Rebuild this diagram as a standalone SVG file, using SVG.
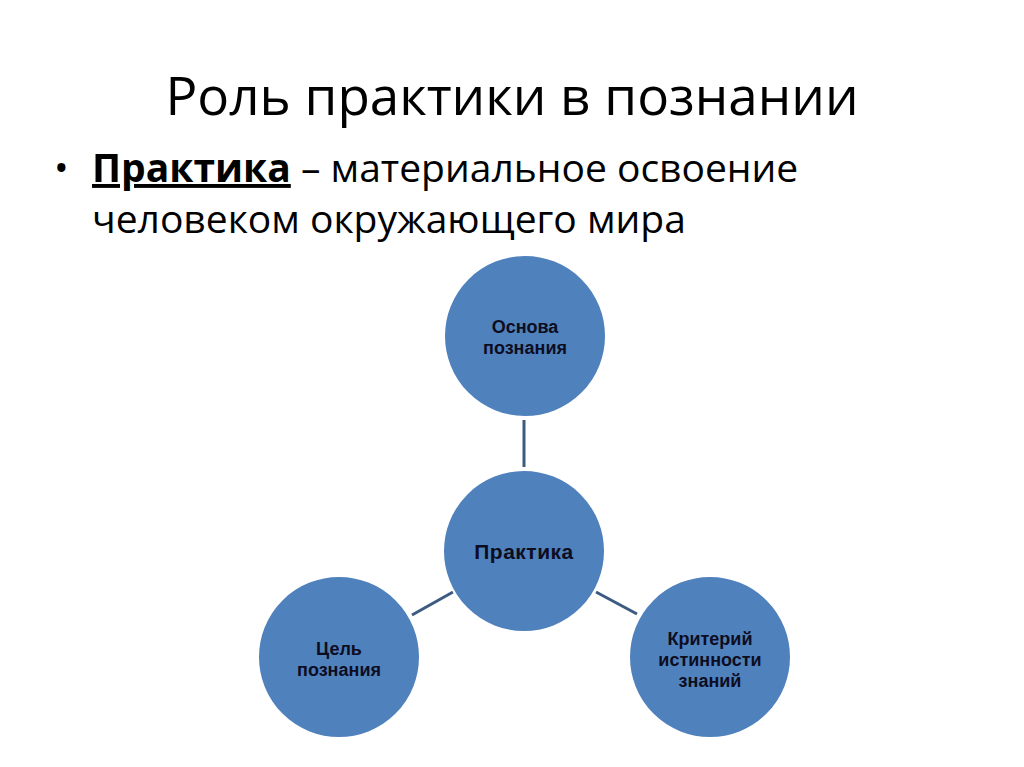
<svg xmlns="http://www.w3.org/2000/svg" width="1024" height="767" viewBox="0 0 1024 767">
<style>
.node{fill:#4f81bd;stroke:#ffffff;stroke-width:2}
.nt{font-family:"Liberation Sans",Arial,sans-serif;font-weight:bold;fill:#0d0d1f;text-anchor:middle;font-size:18px}
.big{font-size:21px;letter-spacing:0.5px}
.conn{stroke:#3d5a80;stroke-width:3;fill:none}
.hd{font-family:"Open Sans","Noto Sans",sans-serif;fill:#000}
</style>
<rect width="1024" height="767" fill="#ffffff"/>
<text class="hd" x="512" y="115" font-size="53" text-anchor="middle">Роль практики в познании</text>
<text class="hd" x="54" y="182" font-size="39">•</text>
<text class="hd" x="92" y="182" font-size="39"><tspan font-weight="bold" text-decoration="underline">Практика</tspan> – материальное освоение</text>
<text class="hd" x="92" y="233" font-size="39">человеком окружающего мира</text>
<g id="connectors">
<line class="conn" x1="524" y1="420" x2="524" y2="467"/>
<line class="conn" x1="412" y1="615" x2="453" y2="592"/>
<line class="conn" x1="596" y1="592" x2="637" y2="614"/>
</g>
<g id="n-top">
<circle class="node" cx="525" cy="336" r="81"/>
<text class="nt" x="525" y="333">Основа</text>
<text class="nt" x="525" y="354">познания</text>
</g>
<g id="n-center">
<circle class="node" cx="524" cy="551" r="81"/>
<text class="nt big" x="524" y="559">Практика</text>
</g>
<g id="n-left">
<circle class="node" cx="339" cy="657" r="81"/>
<text class="nt" x="339" y="655">Цель</text>
<text class="nt" x="339" y="676">познания</text>
</g>
<g id="n-right">
<circle class="node" cx="710" cy="657" r="81"/>
<text class="nt" x="710" y="645">Критерий</text>
<text class="nt" x="710" y="666">истинности</text>
<text class="nt" x="710" y="687">знаний</text>
</g>
</svg>
